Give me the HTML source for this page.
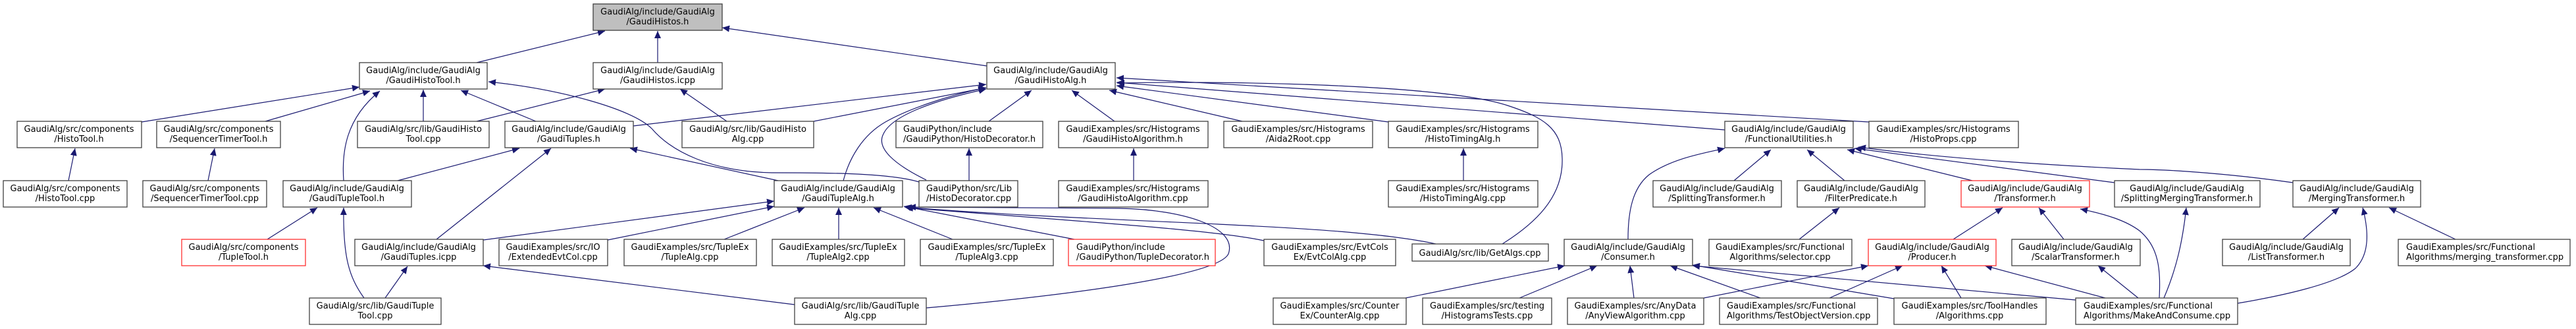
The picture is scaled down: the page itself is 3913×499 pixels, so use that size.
<!DOCTYPE html>
<html><head><meta charset="utf-8"><style>
html,body{margin:0;padding:0;background:#fff;}
svg{display:block;}
text{font-family:"DejaVu Sans","Liberation Sans",sans-serif;font-size:13px;fill:#000;}
.b{fill:#fff;stroke:#404040;stroke-width:1.3;}
.r{fill:#fff;stroke:#ff3030;stroke-width:1.3;}
.g{fill:#bfbfbf;stroke:#404040;stroke-width:1.3;}
.e{fill:none;stroke:#191970;stroke-width:1.2;marker-end:url(#a);}
</style></head><body>
<svg width="3913" height="499" viewBox="0 0 3913 499" xmlns="http://www.w3.org/2000/svg">
<defs><marker id="a" markerUnits="userSpaceOnUse" markerWidth="12" markerHeight="10" refX="11" refY="5" orient="auto"><path d="M0,0 L11,5 L0,10 z" fill="#191970"/></marker></defs>

<!-- edges -->
<path class="e" d="M724,95 L919,47"/>
<path class="e" d="M999,95 L999,47"/>
<path class="e" d="M1499,100 L1097,42"/>
<path class="e" d="M215,185 L546,132"/>
<path class="e" d="M403,184 L562,138"/>
<path class="e" d="M522,274 C519,230 525,180 577,138"/>
<path class="e" d="M643,184 L643,136"/>
<path class="e" d="M814,184 L700,137"/>
<path class="e" d="M1396,276 C1350,262 1250,262 1172,262 C1080,260 1020,230 990,195 C960,165 850,135 742,124"/>
<path class="e" d="M724,184 L919,135"/>
<path class="e" d="M1104,184 L1033,135"/>
<path class="e" d="M604,274 L789,225"/>
<path class="e" d="M663,363 L837,225"/>
<path class="e" d="M1182,274 L957,225"/>
<path class="e" d="M553,452 C530,420 521,390 522,315"/>
<path class="e" d="M585,452 L619,404"/>
<path class="e" d="M406,363 L482,315"/>
<path class="e" d="M104,274 L114,225"/>
<path class="e" d="M316,274 L326,225"/>
<path class="e" d="M1281,274 C1290,240 1310,205 1345,185 C1380,165 1440,145 1497,133"/>
<path class="e" d="M734,364 L1176,305"/>
<path class="e" d="M923,364 L1176,313"/>
<path class="e" d="M1100,363 L1222,315"/>
<path class="e" d="M1274,363 L1274,315"/>
<path class="e" d="M1447,363 L1327,315"/>
<path class="e" d="M1632,363 L1373,313"/>
<path class="e" d="M1920,365 C1850,350 1700,340 1376,315"/>
<path class="e" d="M2181,370 C2100,352 1950,345 1850,340 C1700,333 1500,325 1374,314"/>
<path class="e" d="M1407,467 C1600,450 1850,420 1866,385 C1880,345 1800,318 1700,316 L1380,314"/>
<path class="e" d="M1207,462 L734,403"/>
<path class="e" d="M962,191 L1498,128"/>
<path class="e" d="M1236,184 L1498,133"/>
<path class="e" d="M2282,370 C2330,340 2375,300 2373,240 C2372,195 2345,178 2290,160 C2200,130 1900,122 1697,126"/>
<path class="e" d="M1407,273 C1360,250 1330,225 1342,203 C1355,175 1420,152 1498,135"/>
<path class="e" d="M1502,184 L1567,137"/>
<path class="e" d="M1693,184 L1628,137"/>
<path class="e" d="M1887,184 L1685,137"/>
<path class="e" d="M2109,185 L1696,130"/>
<path class="e" d="M2620,197 L1696,125"/>
<path class="e" d="M2839,185 L1696,118"/>
<path class="e" d="M1722,274 L1722,225"/>
<path class="e" d="M1472,274 L1472,225"/>
<path class="e" d="M2223,274 L2223,225"/>
<path class="e" d="M2473,363 C2473,320 2480,285 2505,265 C2540,240 2590,232 2620,225"/>
<path class="e" d="M2634,274 L2690,227"/>
<path class="e" d="M2802,274 L2745,227"/>
<path class="e" d="M2996,274 L2806,227"/>
<path class="e" d="M3212,277 L2817,225"/>
<path class="e" d="M3483,277 C3400,265 3300,257 3250,257 C3100,250 2950,240 2823,223"/>
<path class="e" d="M2733,363 L2794,315"/>
<path class="e" d="M2967,363 L3042,315"/>
<path class="e" d="M3135,363 L3097,315"/>
<path class="e" d="M3280,452 C3282,410 3280,375 3250,350 C3230,335 3200,325 3160,317"/>
<path class="e" d="M3498,363 L3553,315"/>
<path class="e" d="M3730,363 L3629,315"/>
<path class="e" d="M3399,460 C3470,448 3550,430 3578,407 C3600,385 3598,350 3589,315"/>
<path class="e" d="M3287,452 C3305,410 3315,370 3321,315"/>
<path class="e" d="M3248,452 L3187,403"/>
<path class="e" d="M2588,452 L2838,403"/>
<path class="e" d="M2779,452 L2890,403"/>
<path class="e" d="M2979,452 L2949,403"/>
<path class="e" d="M3198,452 L3015,403"/>
<path class="e" d="M2135,452 L2377,403"/>
<path class="e" d="M2308,452 L2426,403"/>
<path class="e" d="M2482,452 L2476,403"/>
<path class="e" d="M2674,452 L2537,403"/>
<path class="e" d="M2877,453 L2571,402"/>
<path class="e" d="M3153,455 L2571,403"/>

<!-- nodes -->
<rect class="g" x="901" y="6" width="196" height="40"/><text x="999" y="22" text-anchor="middle">GaudiAlg/include/GaudiAlg</text><text x="999" y="37" text-anchor="middle">/GaudiHistos.h</text>
<rect class="b" x="546" y="95" width="194" height="40"/><text x="643" y="111" text-anchor="middle">GaudiAlg/include/GaudiAlg</text><text x="643" y="126" text-anchor="middle">/GaudiHistoTool.h</text>
<rect class="b" x="901" y="95" width="196" height="40"/><text x="999" y="111" text-anchor="middle">GaudiAlg/include/GaudiAlg</text><text x="999" y="126" text-anchor="middle">/GaudiHistos.icpp</text>
<rect class="b" x="1499" y="95" width="195" height="40"/><text x="1596" y="111" text-anchor="middle">GaudiAlg/include/GaudiAlg</text><text x="1596" y="126" text-anchor="middle">/GaudiHistoAlg.h</text>

<rect class="b" x="26" y="184" width="189" height="40"/><text x="120" y="200" text-anchor="middle">GaudiAlg/src/components</text><text x="120" y="215" text-anchor="middle">/HistoTool.h</text>
<rect class="b" x="238" y="184" width="188" height="40"/><text x="332" y="200" text-anchor="middle">GaudiAlg/src/components</text><text x="332" y="215" text-anchor="middle">/SequencerTimerTool.h</text>
<rect class="b" x="543" y="184" width="200" height="40"/><text x="643" y="200" text-anchor="middle">GaudiAlg/src/lib/GaudiHisto</text><text x="643" y="215" text-anchor="middle">Tool.cpp</text>
<rect class="b" x="767" y="184" width="195" height="40"/><text x="864" y="200" text-anchor="middle">GaudiAlg/include/GaudiAlg</text><text x="864" y="215" text-anchor="middle">/GaudiTuples.h</text>
<rect class="b" x="1036" y="184" width="200" height="40"/><text x="1136" y="200" text-anchor="middle">GaudiAlg/src/lib/GaudiHisto</text><text x="1136" y="215" text-anchor="middle">Alg.cpp</text>
<rect class="b" x="1361" y="184" width="223" height="40"/><text x="1372" y="200">GaudiPython/include</text><text x="1372" y="215">/GaudiPython/HistoDecorator.h</text>
<rect class="b" x="1608" y="184" width="227" height="40"/><text x="1721" y="200" text-anchor="middle">GaudiExamples/src/Histograms</text><text x="1721" y="215" text-anchor="middle">/GaudiHistoAlgorithm.h</text>
<rect class="b" x="1859" y="184" width="226" height="40"/><text x="1972" y="200" text-anchor="middle">GaudiExamples/src/Histograms</text><text x="1972" y="215" text-anchor="middle">/Aida2Root.cpp</text>
<rect class="b" x="2109" y="184" width="227" height="40"/><text x="2222" y="200" text-anchor="middle">GaudiExamples/src/Histograms</text><text x="2222" y="215" text-anchor="middle">/HistoTimingAlg.h</text>
<rect class="b" x="2620" y="184" width="195" height="40"/><text x="2717" y="200" text-anchor="middle">GaudiAlg/include/GaudiAlg</text><text x="2717" y="215" text-anchor="middle">/FunctionalUtilities.h</text>
<rect class="b" x="2839" y="184" width="227" height="40"/><text x="2952" y="200" text-anchor="middle">GaudiExamples/src/Histograms</text><text x="2952" y="215" text-anchor="middle">/HistoProps.cpp</text>

<rect class="b" x="5" y="274" width="188" height="40"/><text x="99" y="290" text-anchor="middle">GaudiAlg/src/components</text><text x="99" y="305" text-anchor="middle">/HistoTool.cpp</text>
<rect class="b" x="217" y="274" width="188" height="40"/><text x="311" y="290" text-anchor="middle">GaudiAlg/src/components</text><text x="311" y="305" text-anchor="middle">/SequencerTimerTool.cpp</text>
<rect class="b" x="430" y="274" width="195" height="40"/><text x="527" y="290" text-anchor="middle">GaudiAlg/include/GaudiAlg</text><text x="527" y="305" text-anchor="middle">/GaudiTupleTool.h</text>
<rect class="b" x="1176" y="274" width="195" height="40"/><text x="1273" y="290" text-anchor="middle">GaudiAlg/include/GaudiAlg</text><text x="1273" y="305" text-anchor="middle">/GaudiTupleAlg.h</text>
<rect class="b" x="1396" y="274" width="150" height="40"/><text x="1407" y="290">GaudiPython/src/Lib</text><text x="1407" y="305">/HistoDecorator.cpp</text>
<rect class="b" x="1608" y="274" width="227" height="40"/><text x="1721" y="290" text-anchor="middle">GaudiExamples/src/Histograms</text><text x="1721" y="305" text-anchor="middle">/GaudiHistoAlgorithm.cpp</text>
<rect class="b" x="2109" y="274" width="227" height="40"/><text x="2222" y="290" text-anchor="middle">GaudiExamples/src/Histograms</text><text x="2222" y="305" text-anchor="middle">/HistoTimingAlg.cpp</text>
<rect class="b" x="2511" y="274" width="195" height="40"/><text x="2608" y="290" text-anchor="middle">GaudiAlg/include/GaudiAlg</text><text x="2608" y="305" text-anchor="middle">/SplittingTransformer.h</text>
<rect class="b" x="2730" y="274" width="194" height="40"/><text x="2827" y="290" text-anchor="middle">GaudiAlg/include/GaudiAlg</text><text x="2827" y="305" text-anchor="middle">/FilterPredicate.h</text>
<rect class="r" x="2979" y="274" width="195" height="40"/><text x="3076" y="290" text-anchor="middle">GaudiAlg/include/GaudiAlg</text><text x="3076" y="305" text-anchor="middle">/Transformer.h</text>
<rect class="b" x="3212" y="274" width="221" height="40"/><text x="3322" y="290" text-anchor="middle">GaudiAlg/include/GaudiAlg</text><text x="3322" y="305" text-anchor="middle">/SplittingMergingTransformer.h</text>
<rect class="b" x="3483" y="274" width="194" height="40"/><text x="3580" y="290" text-anchor="middle">GaudiAlg/include/GaudiAlg</text><text x="3580" y="305" text-anchor="middle">/MergingTransformer.h</text>

<rect class="r" x="276" y="363" width="188" height="40"/><text x="370" y="379" text-anchor="middle">GaudiAlg/src/components</text><text x="370" y="394" text-anchor="middle">/TupleTool.h</text>
<rect class="b" x="539" y="363" width="195" height="40"/><text x="636" y="379" text-anchor="middle">GaudiAlg/include/GaudiAlg</text><text x="636" y="394" text-anchor="middle">/GaudiTuples.icpp</text>
<rect class="b" x="758" y="363" width="165" height="40"/><text x="840" y="379" text-anchor="middle">GaudiExamples/src/IO</text><text x="840" y="394" text-anchor="middle">/ExtendedEvtCol.cpp</text>
<rect class="b" x="948" y="363" width="201" height="40"/><text x="1048" y="379" text-anchor="middle">GaudiExamples/src/TupleEx</text><text x="1048" y="394" text-anchor="middle">/TupleAlg.cpp</text>
<rect class="b" x="1173" y="363" width="201" height="40"/><text x="1273" y="379" text-anchor="middle">GaudiExamples/src/TupleEx</text><text x="1273" y="394" text-anchor="middle">/TupleAlg2.cpp</text>
<rect class="b" x="1398" y="363" width="202" height="40"/><text x="1499" y="379" text-anchor="middle">GaudiExamples/src/TupleEx</text><text x="1499" y="394" text-anchor="middle">/TupleAlg3.cpp</text>
<rect class="r" x="1623" y="363" width="223" height="40"/><text x="1635" y="379">GaudiPython/include</text><text x="1635" y="394">/GaudiPython/TupleDecorator.h</text>
<rect class="b" x="1920" y="363" width="200" height="40"/><text x="2020" y="379" text-anchor="middle">GaudiExamples/src/EvtCols</text><text x="2020" y="394" text-anchor="middle">Ex/EvtColAlg.cpp</text>
<rect class="b" x="2145" y="370" width="207" height="26"/><text x="2248" y="388" text-anchor="middle">GaudiAlg/src/lib/GetAlgs.cpp</text>
<rect class="b" x="2376" y="363" width="195" height="40"/><text x="2473" y="379" text-anchor="middle">GaudiAlg/include/GaudiAlg</text><text x="2473" y="394" text-anchor="middle">/Consumer.h</text>
<rect class="b" x="2596" y="363" width="217" height="40"/><text x="2704" y="379" text-anchor="middle">GaudiExamples/src/Functional</text><text x="2704" y="394" text-anchor="middle">Algorithms/selector.cpp</text>
<rect class="r" x="2838" y="363" width="194" height="40"/><text x="2935" y="379" text-anchor="middle">GaudiAlg/include/GaudiAlg</text><text x="2935" y="394" text-anchor="middle">/Producer.h</text>
<rect class="b" x="3056" y="363" width="195" height="40"/><text x="3153" y="379" text-anchor="middle">GaudiAlg/include/GaudiAlg</text><text x="3153" y="394" text-anchor="middle">/ScalarTransformer.h</text>
<rect class="b" x="3376" y="363" width="194" height="40"/><text x="3473" y="379" text-anchor="middle">GaudiAlg/include/GaudiAlg</text><text x="3473" y="394" text-anchor="middle">/ListTransformer.h</text>
<rect class="b" x="3643" y="363" width="261" height="40"/><text x="3655" y="379">GaudiExamples/src/Functional</text><text x="3655" y="394">Algorithms/merging_transformer.cpp</text>

<rect class="b" x="470" y="452" width="200" height="40"/><text x="570" y="468" text-anchor="middle">GaudiAlg/src/lib/GaudiTuple</text><text x="570" y="483" text-anchor="middle">Tool.cpp</text>
<rect class="b" x="1207" y="452" width="200" height="40"/><text x="1307" y="468" text-anchor="middle">GaudiAlg/src/lib/GaudiTuple</text><text x="1307" y="483" text-anchor="middle">Alg.cpp</text>
<rect class="b" x="1934" y="452" width="202" height="40"/><text x="2035" y="468" text-anchor="middle">GaudiExamples/src/Counter</text><text x="2035" y="483" text-anchor="middle">Ex/CounterAlg.cpp</text>
<rect class="b" x="2161" y="452" width="196" height="40"/><text x="2259" y="468" text-anchor="middle">GaudiExamples/src/testing</text><text x="2259" y="483" text-anchor="middle">/HistogramsTests.cpp</text>
<rect class="b" x="2381" y="452" width="207" height="40"/><text x="2484" y="468" text-anchor="middle">GaudiExamples/src/AnyData</text><text x="2484" y="483" text-anchor="middle">/AnyViewAlgorithm.cpp</text>
<rect class="b" x="2612" y="452" width="240" height="40"/><text x="2623" y="468">GaudiExamples/src/Functional</text><text x="2623" y="483">Algorithms/TestObjectVersion.cpp</text>
<rect class="b" x="2877" y="452" width="231" height="40"/><text x="2992" y="468" text-anchor="middle">GaudiExamples/src/ToolHandles</text><text x="2992" y="483" text-anchor="middle">/Algorithms.cpp</text>
<rect class="b" x="3153" y="452" width="246" height="40"/><text x="3165" y="468">GaudiExamples/src/Functional</text><text x="3165" y="483">Algorithms/MakeAndConsume.cpp</text>
</svg>
</body></html>
